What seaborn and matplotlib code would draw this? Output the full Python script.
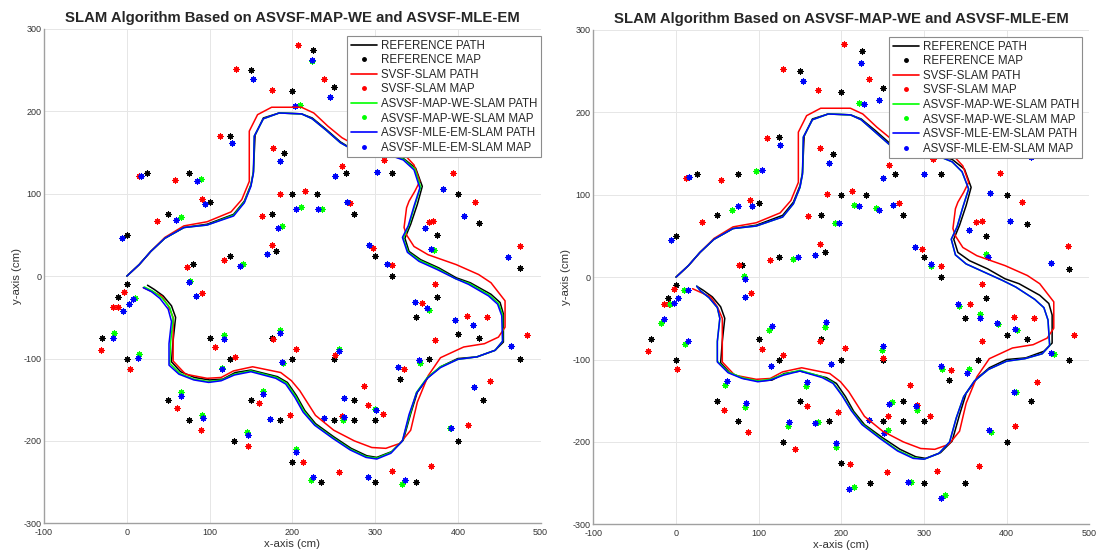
import matplotlib
matplotlib.use("Agg")
import matplotlib.pyplot as plt
from matplotlib.lines import Line2D
import seaborn as sns
import pandas as pd

# ---------------------------------------------------------------- data (cm)
title = "SLAM Algorithm Based on ASVSF-MAP-WE and ASVSF-MLE-EM"
series_names = ["REFERENCE PATH", "REFERENCE MAP", "SVSF-SLAM PATH", "SVSF-SLAM MAP",
                "ASVSF-MAP-WE-SLAM PATH", "ASVSF-MAP-WE-SLAM MAP",
                "ASVSF-MLE-EM-SLAM PATH", "ASVSF-MLE-EM-SLAM MAP"]
x_ticks = [-100, 0, 100, 200, 300, 400, 500]
y_ticks = [-300, -200, -100, 0, 100, 200, 300]

# true landmark positions
ref_map = [(150, 250), (225, 275), (200, 225), (250, 230), (125, 170), (190, 150), (25, 125),
           (75, 125), (100, 90), (50, 75), (0, 50), (175, 75), (200, 100), (230, 100), (265, 125),
           (275, 75), (320, 125), (400, 100), (425, 65), (375, 50), (475, 10), (180, 30), (125, 25),
           (80, 15), (300, 25), (320, 0), (450, 150),
           (0, -10), (-10, -25), (-30, -75), (0, -100), (100, -75), (125, -100), (175, -75),
           (200, -100), (250, -100), (50, -150), (75, -175), (150, -150), (185, -175), (130, -200),
           (200, -225), (235, -250), (250, -175), (275, -150), (275, -175), (300, -175), (300, -250),
           (350, -250), (330, -125), (350, -50), (375, -25), (365, -100), (400, -70), (425, -75),
           (430, -150), (400, -200), (475, -100)]

# true trajectory
ref_path = [(0, 0), (15, 14), (29, 30), (46, 46), (69, 59), (97, 63), (129, 75), (142, 91), (150, 111),
            (153, 127), (155, 171), (165, 192), (184, 198), (211, 197), (224, 192), (241, 178),
            (258, 163), (279, 150), (317, 147), (334, 143), (349, 131), (357, 109), (351, 87),
            (343, 63), (336, 46), (341, 30), (355, 20), (377, 10), (398, -2), (415, -8), (440, -22),
            (451, -32), (455, -46), (455, -80), (445, -90), (423, -98), (400, -100), (379, -110),
            (364, -123), (351, -141), (343, -167), (334, -199), (320, -213), (302, -220), (290, -218),
            (271, -209), (250, -195), (228, -179), (215, -163), (205, -145), (194, -129), (182, -122),
            (150, -114), (131, -117), (116, -125), (100, -126), (82, -123), (65, -116), (54, -104),
            (56, -78), (59, -50), (54, -36), (44, -24), (33, -16), (25, -11)]

# SVSF-SLAM trajectory estimate
svsf_path = [(0, 0), (15, 14), (29, 30), (46, 47), (69, 61), (97, 66), (126, 78), (139, 93), (148, 115),
             (148, 143), (148, 176), (158, 196), (175, 205), (211, 205), (226, 198), (243, 182),
             (260, 168), (283, 155), (317, 155), (334, 149), (347, 135), (354, 115), (348, 103),
             (341, 91), (338, 83), (335, 59), (338, 50), (347, 36), (364, 26), (398, 14), (425, 2),
             (440, -8), (457, -30), (457, -62), (449, -74), (432, -82), (407, -86), (379, -99),
             (364, -121), (351, -153), (343, -187), (330, -203), (313, -209), (296, -208), (275, -200),
             (250, -187), (228, -169), (209, -139), (199, -127), (186, -117), (152, -110), (129, -115),
             (114, -123), (97, -124), (71, -119), (56, -103), (56, -74), (56, -50), (50, -36),
             (42, -24), (20, -14)]

# run A (left panel)
svsf_map_a = [(207, 281), (132, 251), (175, 226), (238, 239), (113, 170), (177, 156), (15, 122),
              (58, 117), (91, 94), (36, 67), (163, 73), (185, 100), (215, 103), (260, 134), (270, 89),
              (311, 141), (394, 125), (421, 90), (365, 66), (370, 67), (475, 37), (176, 38), (118, 20),
              (73, 11), (297, 34), (320, 13),
              (-3, -19), (-17, -38), (-11, -37), (91, -21), (-31, -90), (4, -113), (106, -86),
              (131, -98), (177, -76), (205, -89), (252, -96), (61, -160), (90, -187), (160, -154),
              (147, -206), (197, -168), (213, -225), (260, -170), (256, -238), (286, -133), (291, -157),
              (309, -167), (320, -237), (335, -113), (357, -32), (372, -9), (372, -78), (368, -230),
              (411, -48), (435, -50), (412, -181), (439, -127), (484, -71)]

mapwe_map_a = [(224, 261), (153, 239), (246, 217), (209, 208), (127, 161), (185, 140), (17, 122),
               (90, 118), (94, 87), (65, 72), (-6, 46), (169, 27), (140, 15), (187, 61), (210, 84),
               (236, 82), (252, 122), (266, 90), (293, 38), (314, 15), (302, 127), (382, 106),
               (360, 59), (371, 32), (408, 73), (460, 23), (432, 150),
               (76, -6), (84, -24), (-5, -42), (3, -34), (10, -27), (-16, -69), (15, -94), (118, -72),
               (115, -112), (185, -65), (189, -105), (256, -88), (66, -141), (91, -168), (164, -139),
               (145, -189), (173, -174), (204, -210), (223, -247), (238, -172), (263, -148),
               (261, -175), (300, -161), (292, -244), (333, -252), (328, -110), (348, -31),
               (365, -41), (354, -106), (396, -53), (418, -59), (419, -134), (391, -184), (464, -85)]

mleem_map_a = [(224, 262), (153, 239), (246, 217), (203, 207), (127, 161), (185, 140), (17, 122),
               (85, 115), (94, 87), (60, 68), (-6, 46), (169, 27), (137, 12), (183, 58), (205, 82),
               (231, 81), (252, 122), (266, 90), (293, 38), (314, 15), (302, 127), (382, 106),
               (360, 59), (367, 33), (408, 73), (460, 23), (432, 150),
               (75, -7), (84, -24), (-5, -42), (3, -34), (8, -28), (-17, -75), (14, -99), (117, -76),
               (115, -113), (185, -69), (188, -104), (256, -91), (66, -146), (92, -172), (164, -143),
               (146, -193), (173, -174), (205, -213), (225, -244), (238, -172), (263, -148),
               (263, -171), (301, -162), (292, -244), (336, -248), (328, -110), (348, -31),
               (363, -39), (353, -102), (396, -53), (418, -59), (419, -134), (392, -184), (464, -85)]

mapwe_path_a = [(0, 0), (15, 14), (29, 30), (46, 46), (69, 59), (97, 62), (129, 74), (142, 90),
                (150, 110), (153, 126), (154, 170), (165, 191), (184, 198), (211, 197), (224, 191),
                (241, 177), (258, 162), (279, 150), (317, 147), (334, 142), (348, 130), (355, 108),
                (348, 86), (341, 62), (334, 46), (340, 29), (354, 19), (376, 9), (397, -3), (414, -9),
                (438, -23), (449, -33), (454, -47), (454, -79), (445, -90), (423, -98), (400, -101),
                (379, -110), (363, -123), (350, -141), (342, -168), (333, -200), (319, -214),
                (302, -221), (289, -219), (270, -210), (249, -196), (227, -180), (214, -164),
                (204, -146), (193, -130), (181, -123), (150, -115), (130, -119), (115, -126),
                (99, -128), (81, -125), (64, -118), (52, -106), (53, -80), (56, -52), (52, -38),
                (42, -26), (31, -18), (21, -13)]

mleem_path_a = [(0, 0), (15, 14), (29, 30), (46, 46), (69, 59), (97, 62), (129, 73), (142, 89),
                (150, 109), (153, 125), (154, 170), (165, 191), (184, 198), (211, 197), (224, 191),
                (241, 177), (258, 162), (279, 150), (317, 147), (334, 141), (347, 129), (354, 107),
                (347, 85), (340, 61), (333, 47), (339, 29), (353, 18), (375, 8), (397, -3), (413, -10),
                (437, -24), (448, -34), (453, -48), (454, -79), (445, -90), (423, -98), (400, -101),
                (379, -111), (363, -124), (350, -142), (341, -168), (333, -200), (319, -215),
                (302, -222), (289, -220), (270, -211), (249, -197), (227, -181), (213, -165),
                (203, -147), (192, -131), (180, -124), (150, -116), (130, -120), (114, -127),
                (99, -129), (81, -126), (63, -119), (51, -108), (51, -82), (54, -55), (50, -40),
                (40, -27), (30, -19), (20, -14)]

# run B (right panel)
svsf_map_b = [(203, 283), (129, 253), (172, 227), (234, 240), (110, 169), (174, 157), (12, 120),
              (55, 118), (89, 94), (32, 67), (160, 74), (183, 101), (213, 105), (258, 136), (270, 90),
              (311, 143), (392, 127), (419, 91), (363, 67), (370, 68), (474, 38), (174, 40), (114, 21),
              (76, 15), (297, 34), (320, 13),
              (-2, -15), (-15, -33), (-8, -33), (91, -19), (-34, -90), (1, -112), (104, -87),
              (130, -95), (174, -78), (204, -86), (250, -98), (58, -161), (87, -188), (158, -156),
              (144, -208), (196, -164), (211, -227), (257, -168), (255, -236), (283, -131), (292, -155),
              (307, -168), (316, -235), (333, -113), (356, -32), (370, -8), (370, -77), (367, -229),
              (409, -48), (433, -50), (410, -181), (437, -127), (482, -70)]

mapwe_map_b = [(224, 260), (154, 238), (245, 215), (221, 211), (126, 160), (185, 139), (16, 121),
               (68, 82), (97, 129), (92, 86), (-6, 45), (168, 27), (142, 22), (192, 66), (215, 87),
               (242, 84), (250, 120), (262, 88), (289, 37), (309, 14), (300, 125), (380, 102),
               (355, 57), (375, 28), (404, 68), (454, 17), (430, 146),
               (82, 1), (84, -24), (-18, -56), (-7, -32), (2, -25), (10, -16), (11, -81), (113, -64),
               (115, -108), (180, -60), (188, -106), (249, -88), (59, -131), (83, -158), (157, -132),
               (136, -181), (172, -176), (194, -206), (215, -255), (234, -174), (261, -152),
               (257, -186), (291, -161), (284, -249), (326, -264), (322, -111), (342, -35),
               (368, -45), (354, -112), (389, -57), (412, -64), (411, -140), (381, -188), (457, -93)]

mleem_map_b = [(224, 260), (154, 238), (245, 215), (228, 210), (126, 160), (185, 139), (16, 121),
               (75, 86), (104, 130), (92, 86), (-6, 45), (168, 27), (148, 24), (197, 66), (221, 86),
               (246, 82), (250, 120), (262, 88), (289, 37), (309, 16), (300, 125), (380, 102),
               (355, 57), (378, 24), (404, 68), (454, 17), (430, 146),
               (83, -2), (84, -24), (-14, -51), (-3, -31), (2, -25), (14, -16), (15, -77), (116, -59),
               (115, -108), (182, -55), (188, -106), (250, -84), (62, -126), (85, -153), (158, -127),
               (137, -176), (168, -177), (193, -201), (209, -257), (234, -174), (258, -154),
               (252, -189), (290, -157), (281, -249), (320, -268), (321, -108), (341, -33),
               (368, -49), (352, -116), (388, -56), (410, -63), (409, -139), (379, -186), (454, -92)]

mapwe_path_b = [(0, 0), (15, 14), (29, 30), (46, 46), (69, 59), (97, 62), (129, 73), (142, 89),
                (150, 109), (153, 125), (154, 170), (165, 191), (184, 198), (211, 197), (224, 191),
                (241, 176), (258, 161), (279, 149), (317, 147), (334, 140), (346, 128), (354, 107),
                (347, 85), (340, 61), (333, 46), (338, 27), (351, 16), (373, 6), (395, -4), (411, -12),
                (434, -27), (445, -37), (450, -52), (452, -83), (443, -93), (422, -99), (400, -102),
                (378, -112), (361, -126), (348, -145), (339, -171), (331, -200), (318, -214),
                (300, -221), (287, -219), (268, -210), (247, -195), (225, -178), (212, -161),
                (201, -143), (190, -128), (177, -121), (150, -113), (130, -118), (114, -124),
                (99, -126), (80, -122), (63, -115), (50, -102), (50, -78), (53, -50), (50, -37),
                (40, -25), (30, -17), (25, -11)]

mleem_path_b = [(0, 0), (15, 14), (29, 30), (46, 46), (69, 59), (97, 62), (129, 73), (142, 89),
                (150, 109), (153, 125), (154, 170), (165, 191), (184, 198), (211, 197), (224, 191),
                (241, 176), (258, 161), (279, 149), (317, 147), (334, 140), (346, 128), (354, 107),
                (347, 85), (340, 61), (333, 46), (338, 27), (351, 16), (373, 6), (395, -4), (411, -12),
                (434, -27), (445, -37), (450, -52), (452, -83), (443, -93), (422, -99), (400, -102),
                (378, -112), (361, -126), (348, -145), (339, -171), (331, -200), (318, -214),
                (300, -221), (287, -220), (268, -211), (247, -196), (225, -179), (212, -162),
                (201, -144), (190, -129), (177, -122), (150, -114), (130, -119), (114, -125),
                (99, -127), (80, -123), (63, -116), (50, -103), (50, -78), (53, -50), (50, -37),
                (40, -25), (30, -17), (25, -11)]

# ---------------------------------------------------------------- style
sns.set_theme(style="white")
plt.rcParams["font.family"] = ["Liberation Sans", "DejaVu Sans"]
plt.rcParams["axes.unicode_minus"] = False

COL_REF, COL_SVSF, COL_WE, COL_EM = "black", "red", "#00ff00", "blue"
ASTERISK = (8, 2, 0)


def to_frame(points):
    return pd.DataFrame(points, columns=["x", "y"])


def draw_path(ax, points, color):
    sns.lineplot(data=to_frame(points), x="x", y="y", sort=False, estimator=None,
                 color=color, linewidth=1.1, ax=ax)


def draw_map(ax, points, color):
    sns.scatterplot(data=to_frame(points), x="x", y="y", marker=ASTERISK, s=14,
                    color=color, edgecolor=color, linewidth=0.85, ax=ax)


def draw_panel(ax, svsf_map, mapwe_path, mapwe_map, mleem_path, mleem_map, legend_x):
    draw_path(ax, ref_path, COL_REF)
    draw_map(ax, ref_map, COL_REF)
    draw_path(ax, svsf_path, COL_SVSF)
    draw_map(ax, svsf_map, COL_SVSF)
    draw_path(ax, mapwe_path, COL_WE)
    draw_map(ax, mapwe_map, COL_WE)
    draw_path(ax, mleem_path, COL_EM)
    draw_map(ax, mleem_map, COL_EM)

    ax.set_xlim(x_ticks[0], x_ticks[-1])
    ax.set_ylim(y_ticks[0], y_ticks[-1])
    ax.set_xticks(x_ticks)
    ax.set_yticks(y_ticks)
    ax.grid(True, color="#e6e6e6", linewidth=0.7)
    ax.set_axisbelow(True)
    for side in ("top", "right"):
        ax.spines[side].set_visible(False)
    for side in ("left", "bottom"):
        ax.spines[side].set_color("#a0a0a0")
        ax.spines[side].set_linewidth(1.0)
    ax.tick_params(direction="in", length=3, width=0.7, color="#a0a0a0",
                   labelsize=6.5, labelcolor="#333333")
    ax.tick_params(axis="x", pad=3.5)
    ax.tick_params(axis="y", pad=2)
    ax.set_xlabel("x-axis (cm)", fontsize=8.2, color="#333333", labelpad=1)
    ax.set_ylabel("y-axis (cm)", fontsize=8.2, color="#333333", labelpad=1)
    ax.set_title(title, fontsize=10.7, fontweight="bold", pad=5)

    handles = []
    for name, color in zip(series_names, [COL_REF, COL_REF, COL_SVSF, COL_SVSF,
                                          COL_WE, COL_WE, COL_EM, COL_EM]):
        if name.endswith("PATH"):
            handles.append(Line2D([], [], color=color, linewidth=1.2))
        else:
            handles.append(Line2D([], [], color=color, linestyle="none", marker=".",
                                  markersize=5))
    leg = ax.legend(handles, series_names, loc="upper right", bbox_to_anchor=(legend_x, 0.985),
                    borderaxespad=0, fontsize=8.3, frameon=True, fancybox=False,
                    framealpha=1, edgecolor="#8c8c8c", handlelength=2.3, handletextpad=0.3,
                    labelspacing=0.22, borderpad=0.3)
    leg.get_frame().set_linewidth(0.8)


fig = plt.figure(figsize=(11, 5.53), dpi=100)
ax_a = fig.add_axes([0.040, 0.0537, 0.4515, 0.8939])
ax_b = fig.add_axes([0.5394, 0.0519, 0.4509, 0.8939])

draw_panel(ax_a, svsf_map_a, mapwe_path_a, mapwe_map_a, mleem_path_a, mleem_map_a, 1.0)
draw_panel(ax_b, svsf_map_b, mapwe_path_b, mapwe_map_b, mleem_path_b, mleem_map_b, 0.986)

fig.savefig("out.png", dpi=100)
